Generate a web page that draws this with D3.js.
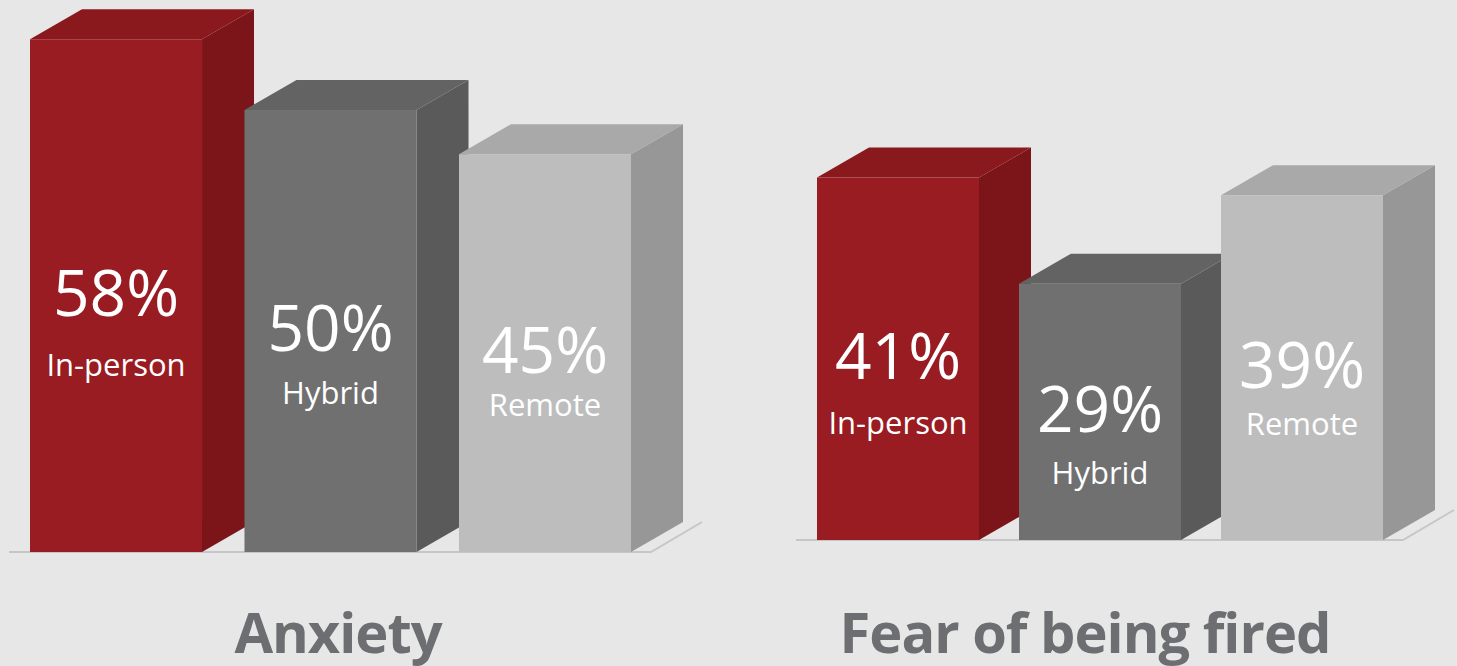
<!DOCTYPE html>
<html>
<head>
<meta charset="utf-8">
<script src="https://cdn.jsdelivr.net/npm/d3@7"></script>
<style>
  html, body { margin: 0; padding: 0; background: #e7e7e7; }
  svg { display: block; }
</style>
</head>
<body>
<script>
// Survey results: share of workers reporting each issue, by work arrangement
const modes = ["In-person", "Hybrid", "Remote"];
const groupTitles = ["Anxiety", "Fear of being fired"];
const anxietyValues = [58, 50, 45];
const fearValues = [41, 29, 39];
const valueLabels = [["58%", "50%", "45%"], ["41%", "29%", "39%"]];

// Layout of the two panels (pixels)
const W = 1457, H = 666;
const panels = [
  { title: groupTitles[0], values: anxietyValues, labels: valueLabels[0],
    range: [30, 631], base: 552, titleX: 338, captionGap: [60, 53, 43] },
  { title: groupTitles[1], values: fearValues, labels: valueLabels[1],
    range: [817, 1383], base: 540, titleX: 1085, captionGap: [55, 52, 47] }
];
const depth = { dx: 52, dy: 30 };
const palette = {
  "In-person": { front: "#981c21", top: "#8a191e", side: "#7b1519" },
  "Hybrid":    { front: "#707070", top: "#636363", side: "#5a5a5a" },
  "Remote":    { front: "#bdbdbe", top: "#a9a9aa", side: "#979798" }
};

// Bar height scale: percent -> pixels
const h = d3.scaleLinear().domain([0, 100]).range([0, 884]);

const svg = d3.select("body").append("svg")
  .attr("width", W).attr("height", H);

svg.append("rect").attr("width", W).attr("height", H).attr("fill", "#e7e7e7");

panels.forEach(p => {
  const g = svg.append("g");
  const x = d3.scaleBand().domain(modes).range(p.range)
    .paddingInner(0.198).paddingOuter(0);
  const bw = x.bandwidth();

  // floor line running beneath the bars, turning back into the depth
  const fx0 = p.range[0] - 21, fx1 = p.range[1] + 20;
  g.append("path")
    .attr("d", `M${fx0},${p.base} H${fx1} L${fx1 + depth.dx - 1},${p.base - depth.dy}`)
    .attr("fill", "none")
    .attr("stroke", "#c6c6c6")
    .attr("stroke-width", 2);

  const bars = g.selectAll("g.bar")
    .data(modes.map((m, i) => ({ mode: m, value: p.values[i], label: p.labels[i], gap: p.captionGap[i] })))
    .join("g").attr("class", "bar");

  bars.each(function(d) {
    const b = d3.select(this);
    const x0 = x(d.mode), x1 = x0 + bw;
    const top = p.base - h(d.value);
    const c = palette[d.mode];

    // right side face
    b.append("path")
      .attr("d", `M${x1},${top} L${x1 + depth.dx},${top - depth.dy} L${x1 + depth.dx},${p.base - depth.dy} L${x1},${p.base} Z`)
      .attr("fill", c.side);
    // top face
    b.append("path")
      .attr("d", `M${x0},${top} L${x0 + depth.dx},${top - depth.dy} L${x1 + depth.dx},${top - depth.dy} L${x1},${top} Z`)
      .attr("fill", c.top);
    // front face
    b.append("rect")
      .attr("x", x0).attr("y", top)
      .attr("width", bw).attr("height", h(d.value))
      .attr("fill", c.front);

    const cx = x0 + bw / 2;
    const ny = (top + p.base) / 2 + 20;
    b.append("text")
      .attr("x", cx).attr("y", ny)
      .attr("text-anchor", "middle")
      .attr("font-family", "'Open Sans', sans-serif")
      .attr("font-size", 64)
      .attr("fill", "#ffffff")
      .text(d.label);
    b.append("text")
      .attr("x", cx).attr("y", ny + d.gap)
      .attr("text-anchor", "middle")
      .attr("font-family", "'Open Sans', sans-serif")
      .attr("font-size", 31)
      .attr("fill", "#ffffff")
      .text(d.mode);
  });

  g.append("text")
    .attr("x", p.titleX).attr("y", 653)
    .attr("text-anchor", "middle")
    .attr("font-family", "'Open Sans', sans-serif")
    .attr("font-weight", 700)
    .attr("font-size", 56)
    .attr("letter-spacing", -1)
    .attr("fill", "#6d6e71")
    .text(p.title);
});
</script>
</body>
</html>
